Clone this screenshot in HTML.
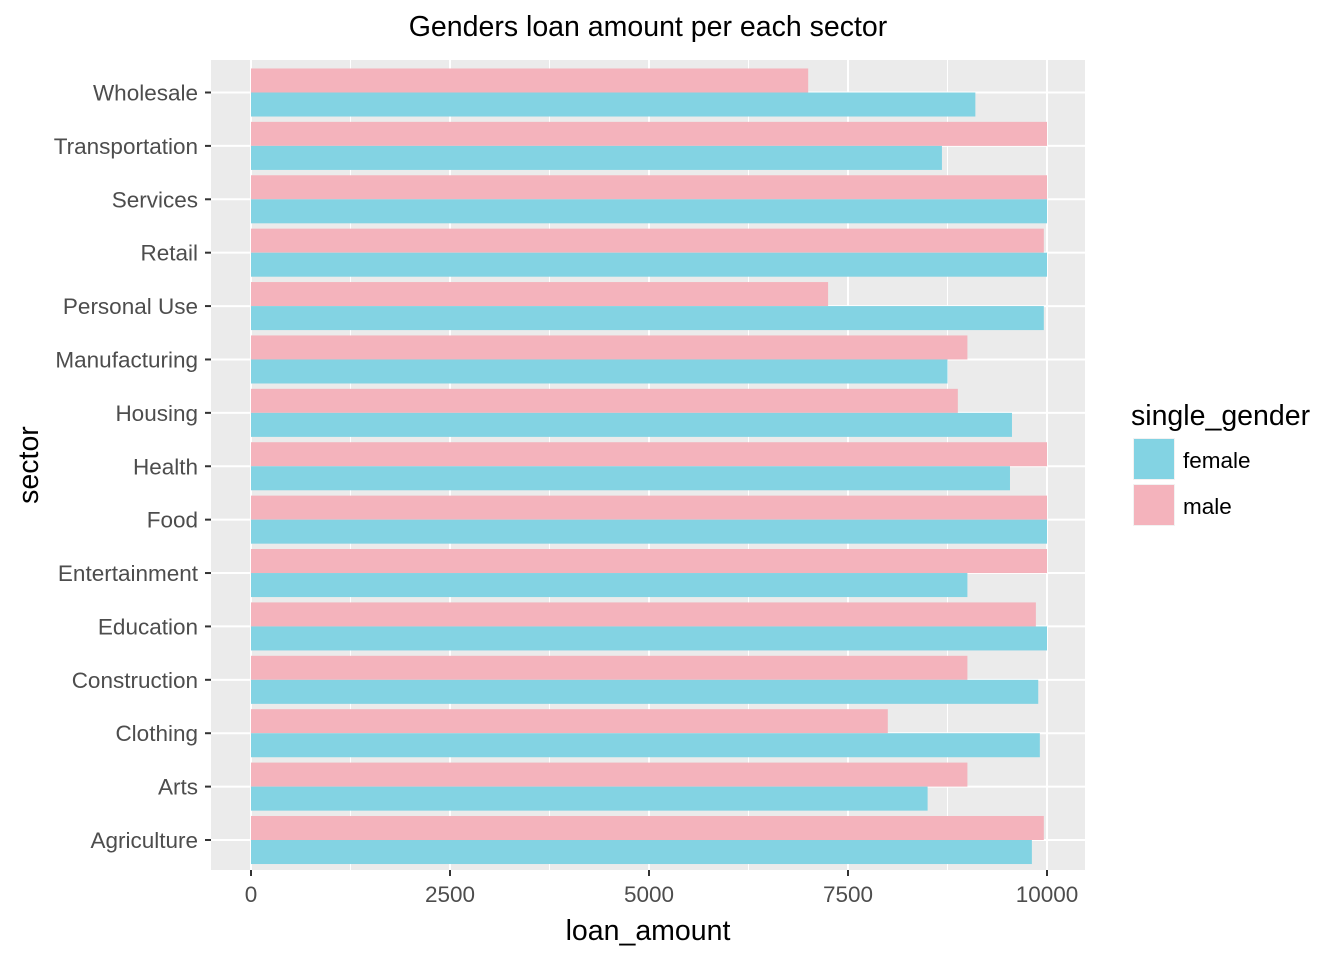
<!DOCTYPE html>
<html><head><meta charset="utf-8"><style>
html,body{margin:0;padding:0;background:#fff;}
svg{display:block;font-family:"Liberation Sans",Arial,sans-serif;}
</style></head><body>
<svg id="chart" width="1344" height="960">
<rect width="1344" height="960" fill="#fff"/>
<text x="648" y="36" text-anchor="middle" font-size="28.5" fill="#000">Genders loan amount per each sector</text>
<rect x="211" y="60" width="874" height="810" fill="#EBEBEB"/>
<g id="grid"></g>
<g id="bars"></g>
<g id="axes"></g>
<text x="648" y="940" text-anchor="middle" font-size="28.5" fill="#000">loan_amount</text>
<text transform="translate(38,465) rotate(-90)" text-anchor="middle" font-size="28.5" fill="#000">sector</text>
<text x="1131" y="425" font-size="28.5" fill="#000">single_gender</text>
<g>
<rect x="1133" y="438" width="42" height="42" fill="#F2F2F2"/>
<rect x="1134" y="439" width="40" height="40" fill="#83D3E3"/>
<text x="1183" y="468" font-size="22.5" fill="#000">female</text>
</g>
<g>
<rect x="1133" y="484" width="42" height="42" fill="#F2F2F2"/>
<rect x="1134" y="485" width="40" height="40" fill="#F4B3BC"/>
<text x="1183" y="514" font-size="22.5" fill="#000">male</text>
</g>
</svg>
<script>
const categories=["Wholesale","Transportation","Services","Retail","Personal Use","Manufacturing","Housing","Health","Food","Entertainment","Education","Construction","Clothing","Arts","Agriculture"];
const maleValues=[7000,10000,10000,9960,7250,9000,8880,10000,10000,10000,9860,9000,8000,9000,9960];
const femaleValues=[9100,8680,10000,10000,9960,8750,9560,9535,10000,9000,10000,9890,9910,8500,9810];
const xTicks=[0,2500,5000,7500,10000];
const xMinor=[1250,3750,6250,8750];
const NS="http://www.w3.org/2000/svg";
function x(v){return 251+v*(1047-251)/10000;}
const step=(840-92.5)/14;
function y(i){return 92.5+i*step;}
function mk(tag,attrs,parent){const e=document.createElementNS(NS,tag);for(const k in attrs)e.setAttribute(k,attrs[k]);parent.appendChild(e);return e;}
const grid=document.getElementById('grid'),bars=document.getElementById('bars'),axes=document.getElementById('axes');
xMinor.forEach(v=>{const l=mk('line',{x1:x(v),x2:x(v),y1:60,y2:870,stroke:'#fff','stroke-width':1},grid);

});
xTicks.forEach(v=>{const l=mk('line',{x1:x(v),x2:x(v),y1:60,y2:870,stroke:'#fff','stroke-width':2},grid);


const t=mk('line',{x1:x(v),x2:x(v),y1:870,y2:876,stroke:'#333','stroke-width':2},axes);


const tx=mk('text',{x:x(v),y:902,'text-anchor':'middle','font-size':22.5,fill:'#4D4D4D'},axes);tx.textContent=v;

});
const bw=step*0.9/2;
categories.forEach((c,i)=>{const cy=y(i);
const g=mk('line',{x1:211,x2:1085,y1:cy,y2:cy,stroke:'#fff','stroke-width':2},grid);


const m=mk('rect',{x:x(0),y:cy-bw,width:x(maleValues[i])-x(0),height:bw,fill:'#F4B3BC'},bars);


const f=mk('rect',{x:x(0),y:cy,width:x(femaleValues[i])-x(0),height:bw,fill:'#83D3E3'},bars);


const t=mk('line',{x1:205,x2:211,y1:cy,y2:cy,stroke:'#333','stroke-width':2},axes);


const tx=mk('text',{x:198,y:cy+8,'text-anchor':'end','font-size':22.5,fill:'#4D4D4D'},axes);tx.textContent=c;

});
</script>
</body></html>
